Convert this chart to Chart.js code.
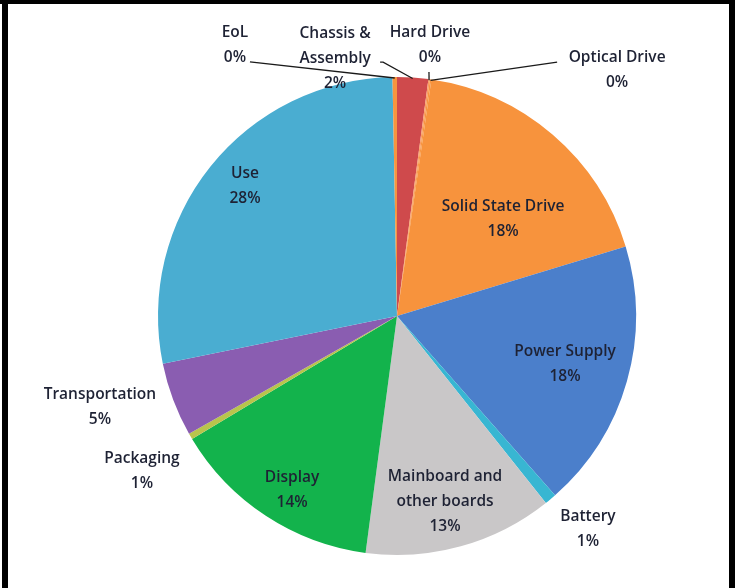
<!DOCTYPE html>
<html>
<head>
<meta charset="utf-8">
<script src="https://cdn.jsdelivr.net/npm/chart.js@4.4.0/dist/chart.umd.min.js"></script>
<style>
  body { margin: 0; background: #fff; }
  #wrap { position: relative; width: 739px; height: 588px; overflow: hidden; }
  #pie { position: absolute; left: 0; top: 0; }
  .bar { position: absolute; background: #000; }
</style>
</head>
<body>
<div id="wrap">
  <canvas id="pie" width="739" height="588"></canvas>
  <div class="bar" style="left:0;top:0;width:735px;height:4px"></div>
  <div class="bar" style="left:2px;top:0;width:6px;height:588px"></div>
  <div class="bar" style="left:729px;top:0;width:6px;height:588px"></div>
</div>
<script>
// chart data
var categories = ['Chassis & Assembly', 'Hard Drive', 'Optical Drive', 'Solid State Drive', 'Power Supply',
    'Battery', 'Mainboard and other boards', 'Display', 'Packaging', 'Transportation', 'Use', 'EoL'];
var shares = [2.1, 0.1, 0.1, 18.0, 18.2, 0.8, 12.8, 14.3, 0.4, 5.0, 27.9, 0.3];
var shareLabels = ['2%', '0%', '0%', '18%', '18%', '1%', '13%', '14%', '1%', '5%', '28%', '0%'];
// how each category name is broken over lines
var nameLines = [['Chassis &', 'Assembly'], ['Hard Drive'], ['Optical Drive'], ['Solid State Drive'], ['Power Supply'],
    ['Battery'], ['Mainboard and', 'other boards'], ['Display'], ['Packaging'], ['Transportation'], ['Use'], ['EoL']];

var colors = ['#cf4a4c', '#fb9c61', '#f7953f', '#f7933d', '#4b7fcb', '#38b6d2', '#c9c7c8', '#13b34c',
    '#b9c44c', '#8a5db1', '#4aadd1', '#f7953f'];

// label placement: centre of text block relative to pie centre, in radii
var labelPos = [[-0.259, -1.079], [0.138, -1.134], [0.921, -1.029], [0.444, -0.406], [0.703, 0.201],
    [0.799, 0.891], [0.201, 0.778], [-0.439, 0.728], [-1.067, 0.649], [-1.243, 0.381], [-0.636, -0.544], [-0.678, -1.134]];
// leader lines: start point relative to text centre (px), null = no leader
var leaderFrom = [[[45, 4], [48, 4]], [[-1, 27], null], [[-60, -8], null], null, null, null, null, null, null, null, null, [[15, 17], null]];

var lineHeight = 25;

var labelPlugin = {
    id: 'sliceLabels',
    afterDatasetsDraw: function(chart) {
        var ctx = chart.ctx;
        var arcs = chart.getDatasetMeta(0).data;
        ctx.save();
        ctx.font = '600 15.5px "Open Sans", Lato, sans-serif';
        ctx.fillStyle = '#1e2234';
        ctx.textAlign = 'center';
        ctx.textBaseline = 'middle';
        arcs.forEach(function(arc, i) {
            var p = arc.getProps(['x', 'y', 'startAngle', 'endAngle', 'outerRadius'], true);
            var r = p.outerRadius;
            var tx = p.x + labelPos[i][0] * r;
            var ty = p.y + labelPos[i][1] * r;
            var lines = nameLines[i].concat([shareLabels[i]]);
            var top = ty - (lines.length - 1) * lineHeight / 2;
            lines.forEach(function(t, k) {
                ctx.fillText(t, tx, top + k * lineHeight);
            });

            // leader line to the slice edge
            var lf = leaderFrom[i];
            if (lf) {
                var mid = (p.startAngle + p.endAngle) / 2;
                var ex = p.x + Math.cos(mid) * (r - 1);
                var ey = p.y + Math.sin(mid) * (r - 1);
                ctx.beginPath();
                ctx.strokeStyle = '#1a1a1a';
                ctx.lineWidth = 1.3;
                ctx.moveTo(tx + lf[0][0], ty + lf[0][1]);
                if (lf[1]) ctx.lineTo(tx + lf[1][0], ty + lf[1][1]);
                ctx.lineTo(ex, ey);
                ctx.stroke();
            }
        });
        ctx.restore();
    }
};

new Chart(document.getElementById('pie'), {
    type: 'pie',
    data: {
        labels: categories,
        datasets: [{
            data: shares,
            backgroundColor: colors,
            borderWidth: 0
        }]
    },
    options: {
        responsive: false,
        animation: false,
        layout: { padding: { top: 77, bottom: 33, left: 158, right: 103 } },
        plugins: {
            legend: { display: false },
            tooltip: { enabled: false }
        }
    },
    plugins: [labelPlugin]
});
</script>
</body>
</html>
